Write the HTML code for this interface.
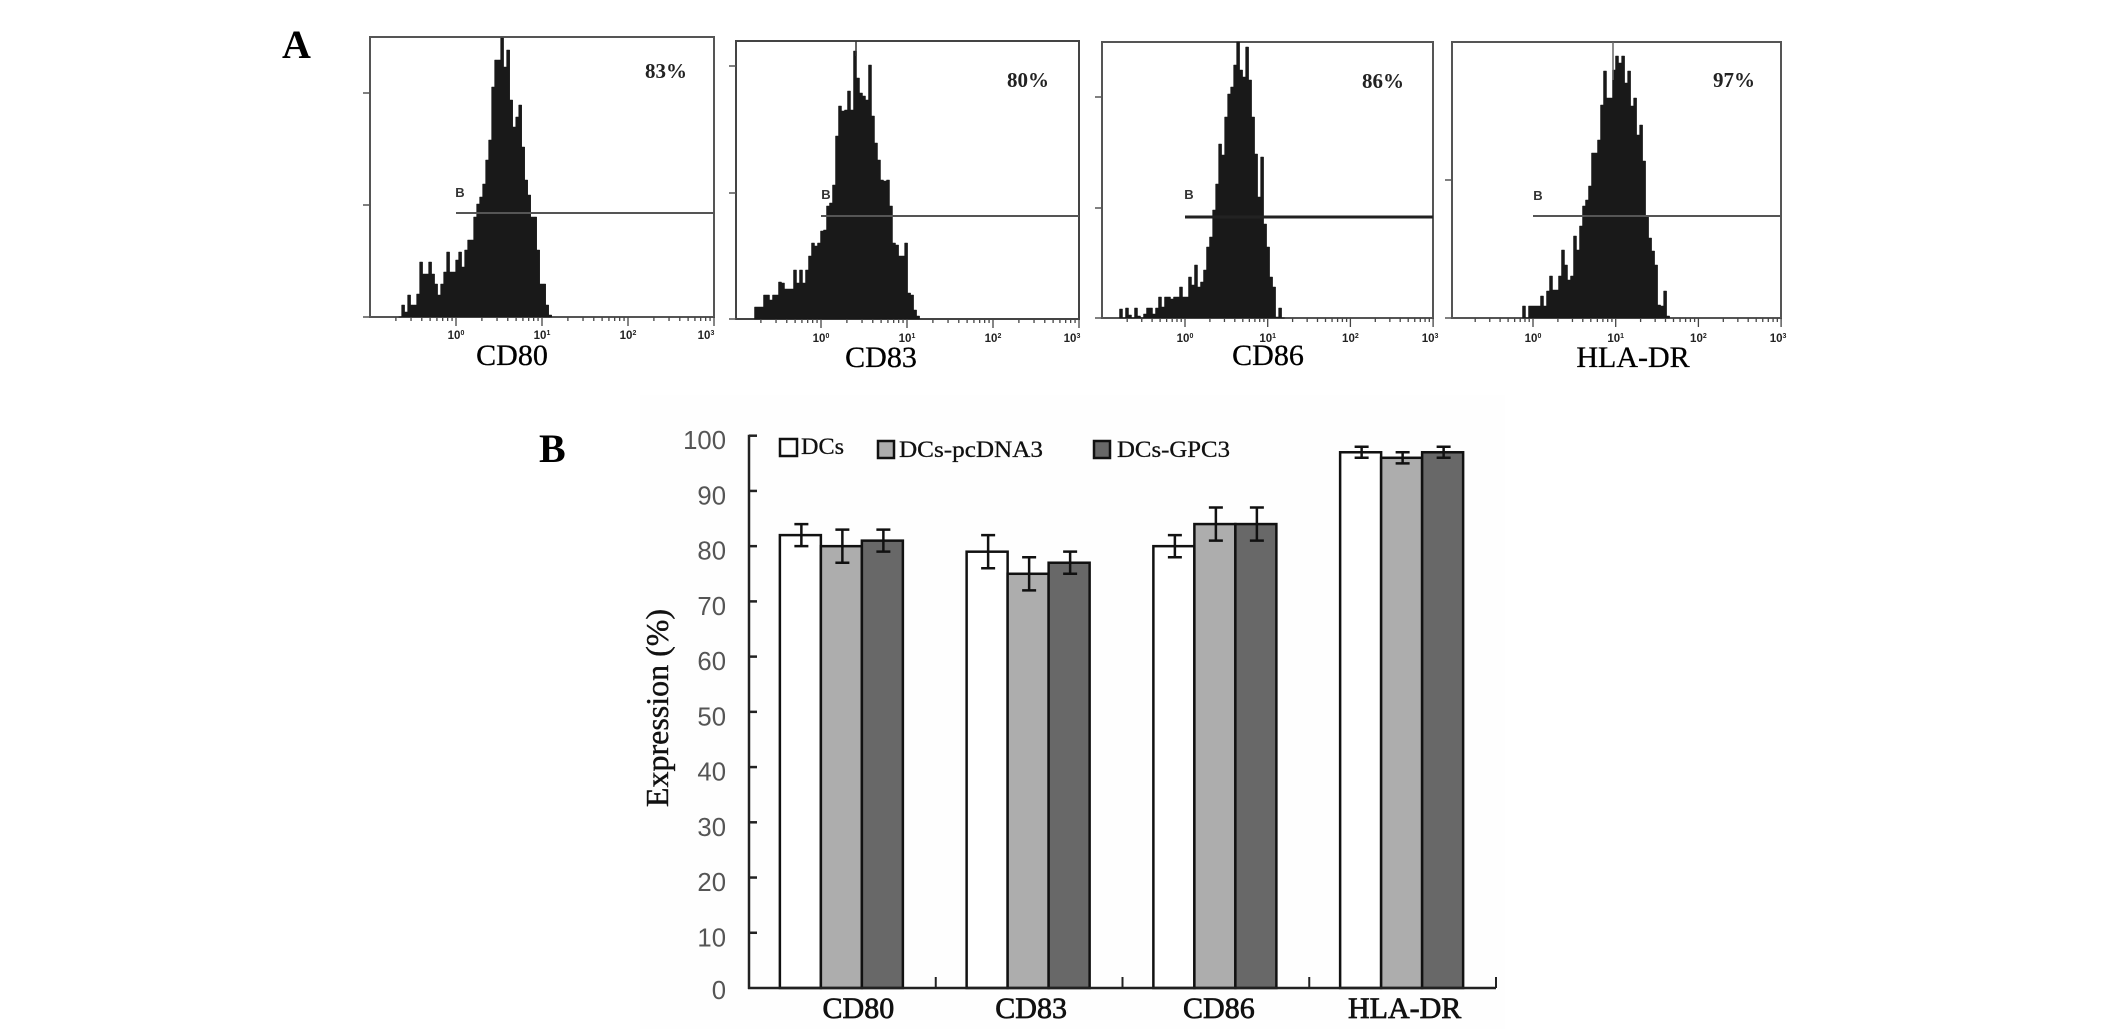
<!DOCTYPE html>
<html lang="en">
<head>
<meta charset="utf-8">
<title>Flow cytometry histograms and expression bar chart</title>
<style>
html,body{margin:0;padding:0;background:#fff;}
svg{display:block;}
text{font-family:"Liberation Serif",serif;}
</style>
</head>
<body>
<svg id="figure" xmlns="http://www.w3.org/2000/svg" width="2126" height="1029" viewBox="0 0 2126 1029">
  <rect x="0" y="0" width="2126" height="1029" fill="#ffffff"/>
  <rect x="640" y="395" width="865" height="634" fill="#fefefe"/>
  <text x="282" y="58" font-size="40" font-weight="700" fill="#000">A</text>
  <text x="539" y="462" font-size="40" font-weight="700" fill="#000">B</text>

  <g id="histograms"></g>

  <text x="645" y="78" font-size="21" font-weight="700" fill="#222">83%</text>
  <text x="1007" y="87" font-size="21" font-weight="700" fill="#222">80%</text>
  <text x="1362" y="88" font-size="21" font-weight="700" fill="#222">86%</text>
  <text x="1713" y="87" font-size="21" font-weight="700" fill="#222">97%</text>

  <text x="512" y="365" font-size="30" text-anchor="middle" fill="#000" stroke="#000" stroke-width="0.3">CD80</text>
  <text x="881" y="367" font-size="30" text-anchor="middle" fill="#000" stroke="#000" stroke-width="0.3">CD83</text>
  <text x="1268" y="365" font-size="30" text-anchor="middle" fill="#000" stroke="#000" stroke-width="0.3">CD86</text>
  <text x="1633" y="367" font-size="30" text-anchor="middle" fill="#000" stroke="#000" stroke-width="0.3">HLA-DR</text>

  <g id="bars"></g>

  <text transform="translate(668,708) rotate(-90)" font-size="32" text-anchor="middle" fill="#111" stroke="#111" stroke-width="0.4">Expression (%)</text>

  <g>
    <rect x="780" y="439" width="17" height="17" fill="#ffffff" stroke="#111" stroke-width="2.5"/>
    <text x="801" y="454" font-size="23" textLength="43" lengthAdjust="spacingAndGlyphs" fill="#111" stroke="#111" stroke-width="0.3">DCs</text>
    <rect x="878" y="441" width="16" height="17" fill="#adadad" stroke="#111" stroke-width="2.5"/>
    <text x="899" y="457" font-size="23" textLength="144" lengthAdjust="spacingAndGlyphs" fill="#111" stroke="#111" stroke-width="0.3">DCs-pcDNA3</text>
    <rect x="1094" y="441" width="16" height="17" fill="#686868" stroke="#111" stroke-width="2.5"/>
    <text x="1117" y="457" font-size="23" textLength="113" lengthAdjust="spacingAndGlyphs" fill="#111" stroke="#111" stroke-width="0.3">DCs-GPC3</text>
  </g>
</svg>
<script>
// ---- Bar chart data (panel B) ----
const categories = ['CD80', 'CD83', 'CD86', 'HLA-DR'];
const seriesDCs = [82, 79, 80, 97];
const seriesPcDNA3 = [80, 75, 84, 96];
const seriesGPC3 = [81, 77, 84, 97];
const errorDCs = [2, 3, 2, 1];
const errorPcDNA3 = [3, 3, 3, 1];
const errorGPC3 = [2, 2, 3, 1];
const yTickLabels = [0, 10, 20, 30, 40, 50, 60, 70, 80, 90, 100];

// ---- Histogram data (panel A): event counts per bin ----
const countsCD80 = [0,12,5,22,12,12,23,55,43,43,55,43,33,22,33,45,65,45,45,57,65,50,67,77,77,100,113,120,133,157,177,230,257,257,279,250,267,217,190,200,212,170,137,122,100,100,67,33,33,12,2];
const countsCD83 = [12,12,12,24,24,19,24,24,37,36,30,30,30,49,36,49,36,49,63,76,73,76,88,89,113,116,134,183,213,208,209,228,209,268,241,226,223,219,254,203,176,159,139,138,139,113,76,74,63,63,76,26,24,9,3];
const countsCD86 = [9,0,10,3,0,10,2,0,4,10,10,4,10,21,11,21,21,19,21,21,31,21,21,41,33,53,31,36,48,71,81,108,134,174,163,201,224,231,253,276,248,241,271,238,201,164,121,161,94,71,41,31,1,10,0];
const countsHLADR = [12,0,12,12,12,12,22,12,27,42,28,28,42,68,53,38,42,82,68,92,112,118,132,165,165,178,213,247,220,220,248,262,255,262,235,247,212,220,183,193,157,102,80,67,53,13,12,27,2];
const histogramDecadeLabels = ['10', '10', '10', '10'];
const histogramDecadeExponents = ['0', '1', '2', '3'];

// ---- Layout ----
const NS = 'http://www.w3.org/2000/svg';
function make(parent, tag, attrs, text) {
  const el = document.createElementNS(NS, tag);
  for (const k in attrs) el.setAttribute(k, attrs[k]);
  if (text !== undefined) el.textContent = text;
  parent.appendChild(el);
  return el;
}

const histLayouts = [
  {key:'cd80', counts:countsCD80, left:370, right:714, top:37, bottom:317, decade0:456, decadePx:86, logStart:-0.65, logBin:0.0349, gateY:213, gateW:2, gateColor:'#555', frame:'#555', labelY:339, lastLabelShift:-8, yTicks:[112,224], gateLabelX:460, gateLabelY:197},
  {key:'cd83', counts:countsCD83, left:736, right:1079, top:41, bottom:319, decade0:821, decadePx:86, logStart:-0.756, logBin:0.0349, gateY:216, gateW:2, gateColor:'#555', frame:'#444', labelY:342, lastLabelShift:-7, yTicks:[126,253], gateLabelX:826, gateLabelY:199},
  {key:'cd86', counts:countsCD86, left:1102, right:1433, top:42, bottom:318, decade0:1185, decadePx:82.7, logStart:-0.774, logBin:0.0363, gateY:217, gateW:3, gateColor:'#222', frame:'#555', labelY:342, lastLabelShift:-3, yTicks:[110,221], gateLabelX:1189, gateLabelY:199},
  {key:'hla-dr', counts:countsHLADR, left:1452, right:1781, top:42, bottom:318, decade0:1533, decadePx:82.7, logStart:-0.109, logBin:0.0363, gateY:216, gateW:2, gateColor:'#555', frame:'#555', labelY:342, lastLabelShift:-3, yTicks:[138], gateLabelX:1538, gateLabelY:200}
];

const histRoot = document.getElementById('histograms');
histLayouts.forEach(function (p) {
  const g = make(histRoot, 'g', {});
  
  

  const xLog = function (v) { return p.decade0 + v * p.decadePx; };
  const yCount = function (c) { return p.bottom - c; };

  // frame
  const frame = make(g, 'rect', {x:p.left, y:p.top, width:p.right - p.left, height:p.bottom - p.top, fill:'#fff', stroke:p.frame, 'stroke-width':2});
  
  

  // histogram bins
  let d = 'M' + xLog(p.logStart - p.logBin / 2).toFixed(1) + ' ' + p.bottom;
  p.counts.forEach(function (c, i) {
    const x0 = xLog(p.logStart + (i - 0.5) * p.logBin);
    const x1 = xLog(p.logStart + (i + 0.5) * p.logBin);
    d += 'L' + x0.toFixed(1) + ' ' + yCount(c).toFixed(1) + 'L' + x1.toFixed(1) + ' ' + yCount(c).toFixed(1);
  });
  d += 'L' + xLog(p.logStart + (p.counts.length - 0.5) * p.logBin).toFixed(1) + ' ' + p.bottom + 'Z';
  const hist = make(g, 'path', {d:d, fill:'#191919', stroke:'#191919', 'stroke-width':0.5});
  
  

  // gate line
  const gate = make(g, 'line', {x1:xLog(0), x2:p.right, y1:p.gateY, y2:p.gateY, stroke:p.gateColor, 'stroke-width':p.gateW});
  
  
  const gateLabel = make(g, 'text', {x:p.gateLabelX, y:p.gateLabelY, 'font-size':13, 'font-weight':700, 'text-anchor':'middle', fill:'#333', style:'font-family:"Liberation Sans",sans-serif'}, 'B');
  
  

  // y ticks
  [0].concat(p.yTicks).forEach(function (c) {
    const t = make(g, 'line', {x1:p.left - 7, x2:p.left, y1:yCount(c), y2:yCount(c), stroke:'#555', 'stroke-width':1.5});
    
    
  });

  // x log ticks
  for (let dec = -1; dec < 3; dec++) {
    for (let m = 2; m <= 10; m++) {
      const x = xLog(dec + Math.log10(m));
      if (x < p.left) continue;
      const t = make(g, 'line', {x1:x, x2:x, y1:p.bottom, y2:p.bottom + (m === 10 ? 9 : 4), stroke:'#444', 'stroke-width':1.3});
      
      
    }
  }

  // x tick labels
  histogramDecadeLabels.forEach(function (lab, i) {
    const x = xLog(i) + (i === 3 ? p.lastLabelShift : 0);
    const t = make(g, 'text', {x:x, y:p.labelY, 'font-size':11.5, 'font-weight':700, 'text-anchor':'middle', fill:'#222', style:'font-family:"Liberation Sans",sans-serif'});
    
    
    t.appendChild(document.createTextNode(lab));
    make(t, 'tspan', {dy:-4, 'font-size':7}, histogramDecadeExponents[i]);
  });
});

// Thin peak lines that reach the top of the CD83 and HLA-DR frames
const cd83Spike = make(histRoot, 'line', {x1:856, x2:856, y1:41, y2:56, stroke:'#333', 'stroke-width':1.5});


const hlaSpike = make(histRoot, 'line', {x1:1613, x2:1613, y1:42, y2:80, stroke:'#666', 'stroke-width':1.5});



// ---- Bar chart ----
const plot = {x0:749, x1:1496, y0:988, yTop:435.7, yMax:100, barW:41};
const catLabelNudge = [17, 3, 4, 3];
const barRoot = document.getElementById('bars');
const yScale = function (v) { return plot.y0 - (v / plot.yMax) * (plot.y0 - plot.yTop); };
const bandW = (plot.x1 - plot.x0) / categories.length;
const xBand = function (i) { return plot.x0 + bandW * (i + 0.5) - 1; };

const seriesList = [seriesDCs, seriesPcDNA3, seriesGPC3];
const errorList = [errorDCs, errorPcDNA3, errorGPC3];
const fills = ['#ffffff', '#adadad', '#686868'];
const seriesKeys = ['dcs', 'dcs-pcdna3', 'dcs-gpc3'];

categories.forEach(function (cat, i) {
  seriesList.forEach(function (vals, s) {
    const x = xBand(i) + (s - 1.5) * plot.barW;
    const bar = make(barRoot, 'rect', {x:x, y:yScale(vals[i]), width:plot.barW, height:plot.y0 - yScale(vals[i]), fill:fills[s], stroke:'#111', 'stroke-width':2.5});
    
    
  });
});

categories.forEach(function (cat, i) {
  seriesList.forEach(function (vals, s) {
    const cx = xBand(i) + (s - 1) * plot.barW + 1;
    const hi = yScale(vals[i] + errorList[s][i]);
    const lo = yScale(vals[i] - errorList[s][i]);
    const d = 'M' + cx + ' ' + hi + 'V' + lo + 'M' + (cx - 7) + ' ' + hi + 'H' + (cx + 7) + 'M' + (cx - 7) + ' ' + lo + 'H' + (cx + 7);
    const err = make(barRoot, 'path', {d:d, fill:'none', stroke:'#111', 'stroke-width':2.5});
    
    
  });
  const label = make(barRoot, 'text', {x:xBand(i) + catLabelNudge[i], y:1018, 'font-size':30, 'text-anchor':'middle', fill:'#111', stroke:'#111', 'stroke-width':0.7}, cat);
  
  
});

const yAxis = make(barRoot, 'line', {x1:plot.x0, x2:plot.x0, y1:plot.yTop - 1, y2:plot.y0 + 1, stroke:'#222', 'stroke-width':2.5});


const xAxis = make(barRoot, 'line', {x1:plot.x0 - 1, x2:plot.x1, y1:plot.y0, y2:plot.y0, stroke:'#222', 'stroke-width':2.5});



yTickLabels.forEach(function (v) {
  const y = yScale(v);
  if (v > 0) {
    const t = make(barRoot, 'line', {x1:plot.x0, x2:plot.x0 + 8, y1:y, y2:y, stroke:'#222', 'stroke-width':2.5});
    
    
  }
  const lab = make(barRoot, 'text', {x:726, y:y + (v === 0 ? 11 : 13.5), 'font-size':25.7, 'text-anchor':'end', fill:'#555', style:'font-family:"Liberation Sans",sans-serif'}, String(v));
  
  
});

categories.forEach(function (cat, i) {
  const x = plot.x0 + bandW * (i + 1);
  const t = make(barRoot, 'line', {x1:x, x2:x, y1:plot.y0, y2:plot.y0 - 11, stroke:'#222', 'stroke-width':2});
  
  
});
</script>
</body>
</html>
